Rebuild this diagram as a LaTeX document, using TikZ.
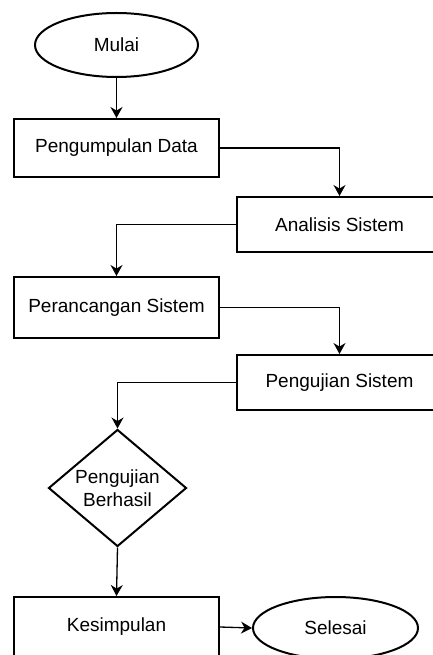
\documentclass[tikz,border=0pt]{standalone}
\usepackage{fontspec}
\setmainfont{Liberation Sans}
\usetikzlibrary{shapes.geometric,arrows.meta}
\begin{document}
\begin{tikzpicture}[x=1pt,y=-1pt,
  txt/.style={font=\fontsize{19}{23}\selectfont, align=center, inner sep=0pt},
  box/.style={txt, draw, line width=2pt, minimum width=205pt},
  term/.style={txt, draw, ellipse, line width=2pt},
  decision/.style={txt, draw, diamond, aspect=1.18, line width=2pt, minimum width=138pt, minimum height=117pt},
  conn/.style={line width=1.3pt, -{Stealth[length=11pt,width=12pt]}}
]
\useasboundingbox (0,0) rectangle (433,655);
\node[term, minimum width=163pt, minimum height=64pt] (mulai) at (116.5,45) {Mulai};
\node[box, minimum height=58pt] (pd) at (116.5,148) {Pengumpulan Data};
\node[box, minimum height=55pt] (as) at (339.5,224.5) {Analisis Sistem};
\node[box, minimum height=61pt] (ps) at (116.5,307.5) {Perancangan Sistem};
\node[box, minimum height=55pt] (us) at (339.5,382.5) {Pengujian Sistem};
\node[decision] (dec) at (117.5,488) {Pengujian\\Berhasil};
\node[box, minimum height=60pt] (ks) at (116.5,627) {Kesimpulan};
\node[term, minimum width=165pt, minimum height=62pt] (sel) at (335.5,628) {Selesai};

\draw[conn] (mulai.south) -- (pd.north);
\draw[conn] (pd.east) -| (as.north);
\draw[conn] (as.west) -| (ps.north);
\draw[conn] (ps.east) -| (us.north);
\draw[conn] (us.west) -| (dec.north);
\draw[conn] (dec.south) -- (ks.north);
\draw[conn] (ks.east) -- (sel.west);
\end{tikzpicture}
\end{document}
